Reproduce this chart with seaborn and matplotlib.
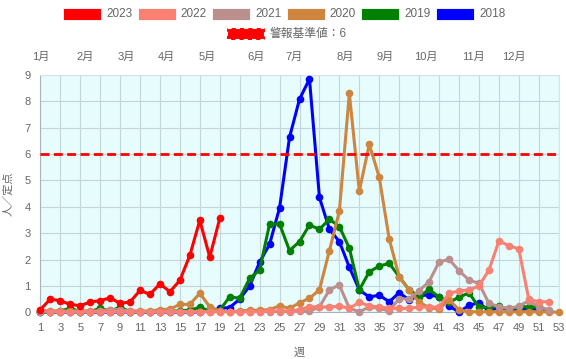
import numpy as np
import pandas as pd
import matplotlib
matplotlib.use('Agg')
import matplotlib.pyplot as plt
import matplotlib.patches as mpatches
import seaborn as sns

# weekly values (人/定点)
years = ['2023', '2022', '2021', '2020', '2019', '2018']
colors = ['#FF0000', '#FA8072', '#BC8F8F', '#CD853F', '#008000', '#0000FF']

y2023 = [0.1, 0.5, 0.44, 0.3, 0.25, 0.39, 0.44, 0.55, 0.34, 0.39,
         0.83, 0.68, 1.08, 0.78, 1.21, 2.16, 3.49, 2.09, 3.56]
y2022 = [0.1, 0.03, 0.02, 0.02, 0.02, 0.02, 0.03, 0.02, 0.02, 0.02,
         0.02, 0.02, 0.02, 0.02, 0.02, 0.02, 0.02, 0.02, 0.02, 0.02,
         0.02, 0.03, 0.03, 0.05, 0.05, 0.05, 0.1, 0.21, 0.21, 0.19,
         0.24, 0.15, 0.38, 0.24, 0.2, 0.15, 0.15, 0.15, 0.2, 0.2,
         0.2, 0.72, 0.81, 0.85, 1.0, 1.6, 2.7, 2.53, 2.4, 0.49,
         0.4, 0.4]
y2021 = [0.03, 0.03, 0.03, 0.03, 0.05, 0.03, 0.05, 0.1, 0.1, 0.05,
         0.03, 0.03, 0.03, 0.05, 0.03, 0.03, 0.03, 0.03, 0.03, 0.03,
         0.03, 0.03, 0.03, 0.03, 0.03, 0.03, 0.05, 0.05, 0.2, 0.85,
         1.04, 0.15, 0.02, 0.2, 0.15, 0.05, 0.52, 0.5, 0.82, 1.16,
         1.91, 2.01, 1.58, 1.22, 1.1, 0.34, 0.21, 0.15, 0.23, 0.44,
         0.21, 0.1]
y2020 = [0.05, 0.05, 0.05, 0.05, 0.05, 0.05, 0.05, 0.1, 0.05, 0.05,
         0.05, 0.05, 0.1, 0.12, 0.3, 0.3, 0.72, 0.21, 0.05, 0.02,
         0.05, 0.08, 0.08, 0.1, 0.25, 0.15, 0.36, 0.53, 0.85, 2.34,
         3.84, 8.3, 4.6, 6.37, 5.12, 2.78, 1.35, 0.84, 0.38, 0.18,
         0.12, 0.47, 0.1, 0.02, 0.02, 0.02, 0.02, 0.02, 0.02, 0.02,
         0.02, 0.02, 0.0]
y2019 = [0.02, 0.02, 0.05, 0.15, 0.03, 0.03, 0.15, 0.05, 0.19, 0.03,
         0.02, 0.02, 0.03, 0.05, 0.05, 0.08, 0.19, 0.05, 0.08, 0.59,
         0.53, 1.29, 1.6, 3.35, 3.35, 2.34, 2.68, 3.31, 3.15, 3.53,
         3.25, 2.43, 0.85, 1.54, 1.75, 1.86, 1.35, 0.85, 0.59, 0.87,
         0.58, 0.38, 0.57, 0.74, 0.19, 0.19, 0.25, 0.08, 0.21, 0.21,
         0.2, 0.05]
y2018 = [0.01, 0.01, 0.01, 0.01, 0.01, 0.01, 0.01, 0.01, 0.01, 0.01,
         0.01, 0.01, 0.01, 0.01, 0.01, 0.01, 0.01, 0.05, 0.15, 0.18,
         0.5, 1.0, 1.9, 2.58, 3.96, 6.64, 8.08, 8.85, 4.36, 3.15,
         2.68, 1.71, 0.85, 0.58, 0.65, 0.4, 0.74, 0.47, 0.63, 0.66,
         0.59, 0.24, 0.01, 0.26, 0.37, 0.04, 0.2, 0.11, 0.08, 0.15,
         0.1, 0.05]
series = [y2023, y2022, y2021, y2020, y2019, y2018]

threshold = 6
threshold_label = '警報基準値：6'

months = ['1月', '2月', '3月', '4月', '5月', '6月', '7月', '8月', '9月', '10月', '11月', '12月']
month_pos = [1, 5.5, 9.6, 13.6, 17.7, 22.6, 26.5, 31.6, 35.6, 39.7, 44.5, 48.5]

sns.set_style('white')
plt.rcParams['font.family'] = ['Liberation Sans', 'Noto Sans CJK JP', 'DejaVu Sans']

fig = plt.figure(figsize=(5.66, 3.59), dpi=100)
ax = fig.add_axes([40.3 / 566, 1 - 312.3 / 359, (558.7 - 40.3) / 566, (312.3 - 75) / 359])
ax.set_facecolor('#E6FCFD')

# first series is drawn on top, like the original
for i, (yr, col, vals) in enumerate(zip(years, colors, series)):
    wk = np.arange(1, len(vals) + 1)
    df = pd.DataFrame({'week': wk, 'value': vals})
    sns.lineplot(data=df, x='week', y='value', color=col, marker='o',
                 markersize=5.5, markeredgewidth=0, linewidth=2.2,
                 ax=ax, zorder=10 - i)
for line in ax.lines:
    line.set_clip_on(False)

ax.axhline(threshold, color='#FF0000', linestyle=(0, (3.2, 1.6)), linewidth=2, zorder=12)

ax.set_xlim(1, 53)
ax.set_ylim(0, 9)
ax.set_xticks(range(1, 54, 2))
ax.set_yticks(range(0, 10))
ax.grid(True, color='#C5D5DA', linewidth=0.8)
ax.set_axisbelow(True)
for side in ['top', 'right']:
    ax.spines[side].set_color('#D8E4E8')
for side in ['left', 'bottom']:
    ax.spines[side].set_color('#A8B4B8')
ax.tick_params(axis='y', length=4, width=0.8, color='#A8B4B8', pad=3, labelsize=8, labelcolor='#666666')
ax.tick_params(axis='x', length=0, pad=8, labelsize=8, labelcolor='#666666')
ax.set_xlabel('週', fontsize=8, color='#666666', labelpad=10)
ax.set_ylabel('人／定点', fontsize=8, color='#666666', labelpad=8)

# month labels above the plot
for m, p in zip(months, month_pos):
    ax.text(p, 9 + 0.68, m, ha='center', va='center', fontsize=8, color='#666666')

# legend, drawn by hand like the chart.js boxes
box_w, box_h = 38 / 566, 12 / 359
step = 74.6 / 566
x0 = 63 / 566
for i, (yr, col) in enumerate(zip(years, colors)):
    bx = x0 + i * step
    fig.patches.append(mpatches.Rectangle((bx, 1 - 20 / 359), box_w, box_h, transform=fig.transFigure,
                                          facecolor=col, edgecolor='white', linewidth=0.6))
    fig.text(bx + box_w + 5 / 566, 1 - 14 / 359, yr, ha='left', va='center', fontsize=8.5, color='#666666')

tx = 227 / 566
fig.patches.append(mpatches.Rectangle((tx, 1 - 40 / 359), box_w, box_h, transform=fig.transFigure,
                                      facecolor='#FF0000', edgecolor='white', linewidth=1.5,
                                      linestyle=(0, (2, 2))))
fig.text(tx + box_w + 5 / 566, 1 - 34 / 359, threshold_label, ha='left', va='center', fontsize=8.5, color='#666666')

plt.savefig('out.png', dpi=100)
